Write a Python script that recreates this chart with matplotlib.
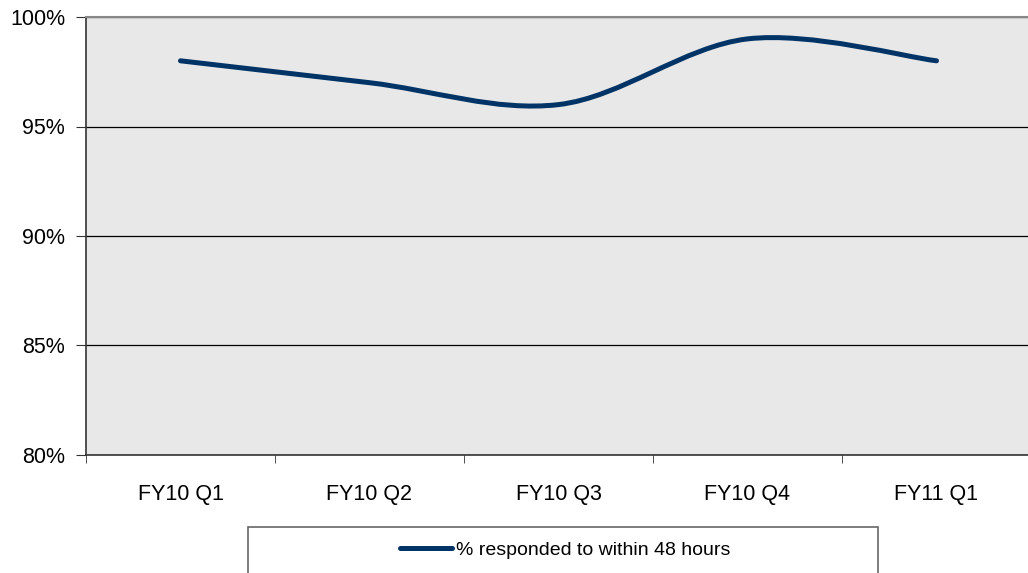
"""Line chart: % responded to within 48 hours, by quarter."""
import numpy as np
import matplotlib
matplotlib.use("Agg")
import matplotlib.pyplot as plt
from matplotlib.path import Path
from matplotlib.patches import PathPatch, Rectangle
from matplotlib.lines import Line2D

quarters = ["FY10 Q1", "FY10 Q2", "FY10 Q3", "FY10 Q4", "FY11 Q1"]
pct_48h = [98, 97, 96, 99, 98]
y_ticks = [80, 85, 90, 95, 100]
series_label = "% responded to within 48 hours"

LINE_COLOR = "#003366"
plt.rcParams["font.family"] = ["Liberation Sans", "DejaVu Sans"]

fig = plt.figure(figsize=(10.28, 5.73), dpi=100)
ax = fig.add_axes([86 / 1028, 1 - 455 / 573, 945 / 1028, 438 / 573])
ax.set_facecolor("#e8e8e8")

# Excel-style smoothed line: cubic Bezier segments with Catmull-Rom control points
x = np.arange(len(pct_48h), dtype=float)
y = np.asarray(pct_48h, dtype=float)
pts = np.column_stack([x, y])
verts = [tuple(pts[0])]
codes = [Path.MOVETO]
for i in range(len(pts) - 1):
    p0 = pts[max(i - 1, 0)]
    p1, p2 = pts[i], pts[i + 1]
    p3 = pts[min(i + 2, len(pts) - 1)]
    c1 = p1 + (p2 - p0) / 6
    c2 = p2 - (p3 - p1) / 6
    verts += [tuple(c1), tuple(c2), tuple(p2)]
    codes += [Path.CURVE4] * 3
ax.add_patch(PathPatch(Path(verts, codes), facecolor="none", edgecolor=LINE_COLOR,
                       lw=3.6, capstyle="round", joinstyle="round", zorder=3))

ax.set_xlim(-0.5, len(quarters) - 0.5)
ax.set_ylim(80, 100)
ax.set_yticks(y_ticks)
ax.set_yticklabels([f"{v}%" for v in y_ticks], fontsize=15.5)
ax.yaxis.grid(True, color="black", lw=0.9)
ax.set_axisbelow(True)

ax.set_xticks(x)
ax.set_xticklabels(quarters, fontsize=15.5)
ax.set_xticks(np.arange(len(quarters) + 1) - 0.5, minor=True)
ax.tick_params(axis="x", which="major", length=0, pad=21)
ax.tick_params(axis="x", which="minor", length=6, color="#333333")
ax.tick_params(axis="y", length=7, color="#333333", pad=8)

for side in ["left", "bottom"]:
    ax.spines[side].set_color("#333333")
    ax.spines[side].set_linewidth(1.2)
ax.spines["top"].set_color("#888888")
ax.spines["top"].set_linewidth(1.5)
ax.spines["right"].set_visible(False)

# legend box at the bottom (cut off by the figure edge, as in the source)
fig.patches.append(Rectangle((248 / 1028, -0.02), 630 / 1028, (573 - 527) / 573 + 0.02,
                             transform=fig.transFigure, facecolor="white",
                             edgecolor="#666666", lw=1.2))
handle = Line2D([], [], color=LINE_COLOR, lw=3.6, solid_capstyle="round")
fig.legend([handle], [series_label], loc="center", bbox_to_anchor=(565 / 1028, 1 - 550 / 573),
           frameon=False, fontsize=14, handlelength=2.65, handletextpad=0.2)

fig.savefig("out.png", dpi=100)
